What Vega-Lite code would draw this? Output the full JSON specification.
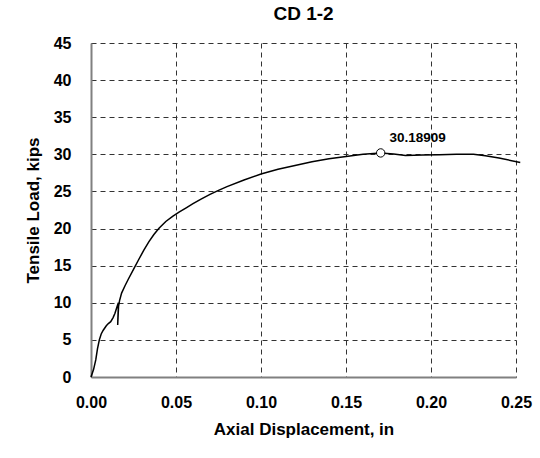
{
  "$schema": "https://vega.github.io/schema/vega-lite/v6.json",
  "width": 425,
  "height": 334,
  "autosize": "none",
  "padding": {"left": 91, "top": 43, "right": 24, "bottom": 81},
  "background": "white",
  "title": {"text": "CD 1-2", "font": "Liberation Sans", "fontSize": 19, "fontWeight": "bold", "color": "#000", "offset": 11},
  "config": {
    "view": {"stroke": null},
    "axis": {
      "labelFont": "Liberation Sans", "labelFontSize": 16, "labelFontWeight": "bold", "labelColor": "#000",
      "titleFont": "Liberation Sans", "titleFontSize": 17, "titleFontWeight": "bold", "titleColor": "#000",
      "grid": true, "gridColor": "#333", "gridDash": [5, 4], "gridWidth": 1,
      "domainColor": "#808080", "domainWidth": 2, "ticks": false,
      "labelFlush": false, "labelOverlap": false, "labelBound": false
    }
  },
  "datasets": {
    "curve": [
      {"i": 1, "d": 0.0, "load": 0.0},
      {"i": 2, "d": 0.0015, "load": 1.0},
      {"i": 3, "d": 0.0028, "load": 2.3},
      {"i": 4, "d": 0.0038, "load": 3.8},
      {"i": 5, "d": 0.0049, "load": 5.0},
      {"i": 6, "d": 0.006, "load": 5.8},
      {"i": 7, "d": 0.0072, "load": 6.3},
      {"i": 8, "d": 0.009, "load": 6.9},
      {"i": 9, "d": 0.0102, "load": 7.2},
      {"i": 10, "d": 0.0116, "load": 7.45},
      {"i": 11, "d": 0.013, "load": 8.0},
      {"i": 12, "d": 0.0141, "load": 8.6},
      {"i": 13, "d": 0.0155, "load": 9.6},
      {"i": 14, "d": 0.0161, "load": 10.0},
      {"i": 15, "d": 0.016, "load": 9.0},
      {"i": 16, "d": 0.0158, "load": 7.8},
      {"i": 17, "d": 0.0157, "load": 7.0},
      {"i": 18, "d": 0.0159, "load": 8.0},
      {"i": 19, "d": 0.0162, "load": 9.5},
      {"i": 20, "d": 0.0168, "load": 10.3},
      {"i": 21, "d": 0.018, "load": 11.3},
      {"i": 22, "d": 0.02, "load": 12.3},
      {"i": 23, "d": 0.022, "load": 13.2},
      {"i": 24, "d": 0.025, "load": 14.5},
      {"i": 25, "d": 0.028, "load": 15.8},
      {"i": 26, "d": 0.031, "load": 17.05},
      {"i": 27, "d": 0.034, "load": 18.2},
      {"i": 28, "d": 0.037, "load": 19.2},
      {"i": 29, "d": 0.04, "load": 20.05},
      {"i": 30, "d": 0.044, "load": 20.95},
      {"i": 31, "d": 0.048, "load": 21.65},
      {"i": 32, "d": 0.052, "load": 22.25},
      {"i": 33, "d": 0.056, "load": 22.8},
      {"i": 34, "d": 0.06, "load": 23.35},
      {"i": 35, "d": 0.065, "load": 24.0},
      {"i": 36, "d": 0.07, "load": 24.6},
      {"i": 37, "d": 0.075, "load": 25.15},
      {"i": 38, "d": 0.08, "load": 25.65},
      {"i": 39, "d": 0.09, "load": 26.55},
      {"i": 40, "d": 0.1, "load": 27.35},
      {"i": 41, "d": 0.11, "load": 28.0},
      {"i": 42, "d": 0.12, "load": 28.5},
      {"i": 43, "d": 0.13, "load": 29.0},
      {"i": 44, "d": 0.14, "load": 29.4},
      {"i": 45, "d": 0.15, "load": 29.7},
      {"i": 46, "d": 0.16, "load": 30.0},
      {"i": 47, "d": 0.1704, "load": 30.19},
      {"i": 48, "d": 0.178, "load": 30.05},
      {"i": 49, "d": 0.185, "load": 29.85},
      {"i": 50, "d": 0.195, "load": 29.9},
      {"i": 51, "d": 0.205, "load": 29.95},
      {"i": 52, "d": 0.215, "load": 30.0},
      {"i": 53, "d": 0.225, "load": 30.0},
      {"i": 54, "d": 0.232, "load": 29.8},
      {"i": 55, "d": 0.24, "load": 29.5},
      {"i": 56, "d": 0.2525, "load": 28.9}
    ],
    "peak": [
      {"d": 0.1704, "load": 30.18909, "label": "30.18909"}
    ]
  },
  "encoding": {
    "x": {"field": "d", "type": "quantitative", "scale": {"domain": [0, 0.25], "nice": false},
          "axis": {"values": [0, 0.05, 0.1, 0.15, 0.2, 0.25], "tickCount": 6, "format": ".2f", "title": "Axial Displacement, in", "labelPadding": 17, "titlePadding": 11}},
    "y": {"field": "load", "type": "quantitative", "scale": {"domain": [0, 45], "nice": false},
          "axis": {"values": [0, 5, 10, 15, 20, 25, 30, 35, 40, 45], "tickCount": 10, "format": "d", "title": "Tensile Load, kips", "labelPadding": 20, "titlePadding": 11}}
  },
  "layer": [
    {
      "data": {"name": "curve"},
      "mark": {"type": "line", "color": "#000", "strokeWidth": 1.5},
      "encoding": {
        "order": {"field": "i", "type": "quantitative"}
      }
    },
    {
      "data": {"name": "peak"},
      "mark": {"type": "point", "shape": "circle", "size": 70, "filled": false, "fill": "white", "fillOpacity": 1, "stroke": "#000", "strokeWidth": 1, "opacity": 1}
    },
    {
      "data": {"name": "peak"},
      "mark": {"type": "text", "font": "Liberation Sans", "fontSize": 13.5, "fontWeight": "bold", "color": "#000", "align": "center", "baseline": "middle", "dx": 37, "dy": -15},
      "encoding": {
        "text": {"field": "label"}
      }
    }
  ]
}
